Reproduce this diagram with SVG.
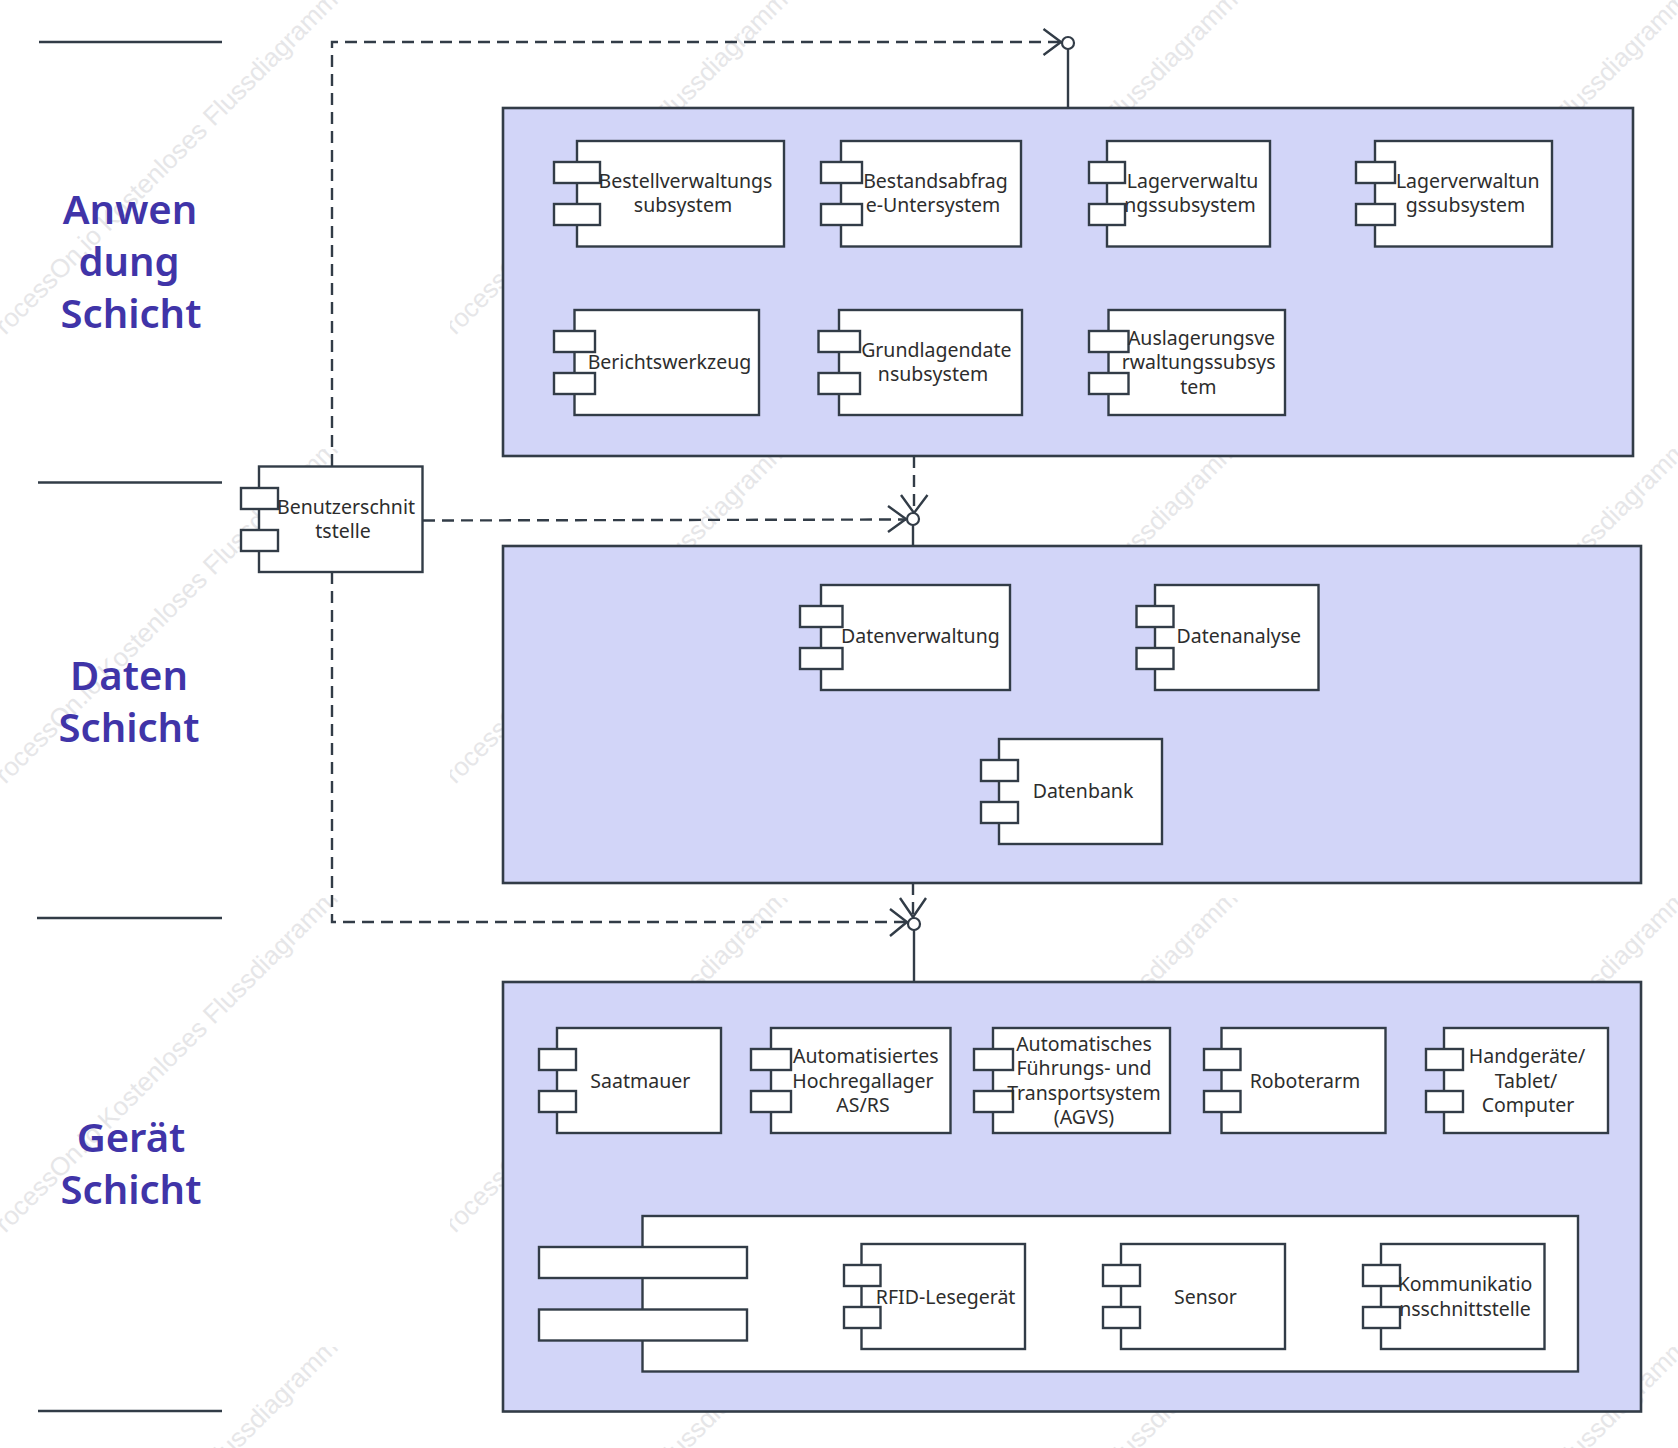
<svg xmlns="http://www.w3.org/2000/svg" xmlns:xlink="http://www.w3.org/1999/xlink" width="1678" height="1448" viewBox="0 0 1678 1448">
<style>
.s{fill:#fff;stroke:#323c47;stroke-width:2.4}
.p{fill:#d2d5f8;stroke:#323c47;stroke-width:2.6}
.l{fill:none;stroke:#323c47;stroke-width:2.4}
.d{fill:none;stroke:#323c47;stroke-width:2.4;stroke-dasharray:12 7}
.o{fill:#fff;stroke:#323c47;stroke-width:2.2}
.t{font-family:"Noto Sans","DejaVu Sans",sans-serif;font-size:19.5px;fill:#2d2d2d;text-anchor:middle}
.h{font-family:"Noto Sans","DejaVu Sans",sans-serif;font-size:40px;font-weight:600;fill:#4034a8;text-anchor:middle}
.w{font-family:"Liberation Sans",Arial,sans-serif;font-size:26px;fill:#e6e6e8}
</style>
<defs>
<clipPath id="tile"><rect x="0" y="0" width="349" height="449"/></clipPath>
<g id="wm" clip-path="url(#tile)"><text class="w" transform="translate(-7,348) rotate(-45)">ProcessOn.io Kostenloses Flussdiagramm</text></g>
</defs>
<g id="watermarks">
<use xlink:href="#wm" x="0" y="0"/><use xlink:href="#wm" x="450" y="0"/><use xlink:href="#wm" x="900" y="0"/><use xlink:href="#wm" x="1350" y="0"/>
<use xlink:href="#wm" x="0" y="449"/><use xlink:href="#wm" x="450" y="449"/><use xlink:href="#wm" x="900" y="449"/><use xlink:href="#wm" x="1350" y="449"/>
<use xlink:href="#wm" x="0" y="898"/><use xlink:href="#wm" x="450" y="898"/><use xlink:href="#wm" x="900" y="898"/><use xlink:href="#wm" x="1350" y="898"/>
<use xlink:href="#wm" x="0" y="1347"/><use xlink:href="#wm" x="450" y="1347"/><use xlink:href="#wm" x="900" y="1347"/><use xlink:href="#wm" x="1350" y="1347"/>
</g>
<g id="lane-lines">
<line class="l" x1="39" y1="42" x2="222" y2="42"/>
<line class="l" x1="38" y1="482.5" x2="222" y2="482.5"/>
<line class="l" x1="37" y1="918" x2="222" y2="918"/>
<line class="l" x1="38" y1="1411" x2="222" y2="1411"/>
</g>
<g id="lane-labels">
<text class="h" x="130" y="224">Anwen</text><text class="h" x="129" y="276">dung</text><text class="h" x="131" y="328">Schicht</text>
<text class="h" x="129" y="690">Daten</text><text class="h" x="129" y="742">Schicht</text>
<text class="h" x="131" y="1152">Gerät</text><text class="h" x="131" y="1204">Schicht</text>
</g>
<g id="panels">
<rect id="panel-app" class="p" x="503" y="108" width="1130" height="348"/>
<rect id="panel-data" class="p" x="503" y="546" width="1138" height="337"/>
<rect id="panel-device" class="p" x="503" y="982" width="1138" height="429.5"/>
</g>
<g id="connectors">
<path class="d" d="M332 466V42H1061"/>
<path class="l" d="M1043.5 29L1061 42L1043.5 55"/>
<circle class="o" cx="1068" cy="43" r="6"/>
<path class="l" d="M1068 49V108"/>
<path class="d" d="M423 520.5L906 519.5"/>
<path class="d" d="M914 456V513"/>
<path class="l" d="M888 506L906 519L888 532"/>
<path class="l" d="M901 495L914 513L927.500 495"/>
<circle class="o" cx="913" cy="519" r="6"/>
<path class="l" d="M913 525V546"/>
<path class="d" d="M332 572V922H907"/>
<path class="d" d="M913 883V917"/>
<path class="l" d="M890 909L907 922L890 936"/>
<path class="l" d="M900 898L913 917L926 898"/>
<circle class="o" cx="914" cy="924" r="6"/>
<path class="l" d="M914 930V982"/>
</g>
<g id="n-bestell"><rect class="s" x="577" y="141" width="207" height="105.500"/><rect class="s" x="554" y="162" width="46" height="21"/><rect class="s" x="554" y="204" width="46" height="21"/><text class="t"><tspan x="685.500" y="188">Bestellverwaltungs</tspan><tspan x="683" y="212">subsystem</tspan></text></g>
<g id="n-bestand"><rect class="s" x="841" y="141" width="180" height="105.500"/><rect class="s" x="821" y="162" width="41" height="21"/><rect class="s" x="821" y="204" width="41" height="21"/><text class="t"><tspan x="935.500" y="188">Bestandsabfrag</tspan><tspan x="933" y="212">e-Untersystem</tspan></text></g>
<g id="n-lager1"><rect class="s" x="1107" y="141" width="163" height="105.500"/><rect class="s" x="1089" y="162" width="36" height="21"/><rect class="s" x="1089" y="204" width="36" height="21"/><text class="t"><tspan x="1192.500" y="188">Lagerverwaltu</tspan><tspan x="1190" y="212">ngssubsystem</tspan></text></g>
<g id="n-lager2"><rect class="s" x="1375" y="141" width="177" height="105.500"/><rect class="s" x="1356" y="162" width="39" height="21"/><rect class="s" x="1356" y="204" width="39" height="21"/><text class="t"><tspan x="1467.700" y="188">Lagerverwaltun</tspan><tspan x="1465.500" y="212">gssubsystem</tspan></text></g>
<g id="n-bericht"><rect class="s" x="574.500" y="310" width="184.500" height="105"/><rect class="s" x="554" y="331" width="41" height="21"/><rect class="s" x="554" y="373" width="41" height="21"/><text class="t" x="669.400" y="369">Berichtswerkzeug</text></g>
<g id="n-grund"><rect class="s" x="839" y="310" width="183" height="105"/><rect class="s" x="818.500" y="331" width="41.500" height="21"/><rect class="s" x="818.500" y="373" width="41.500" height="21"/><text class="t"><tspan x="936.300" y="356.500">Grundlagendate</tspan><tspan x="933" y="381">nsubsystem</tspan></text></g>
<g id="n-auslager"><rect class="s" x="1108.500" y="310" width="176.500" height="105"/><rect class="s" x="1089" y="331" width="39.500" height="21"/><rect class="s" x="1089" y="373" width="39.500" height="21"/><text class="t"><tspan x="1201.500" y="344.500">Auslagerungsve</tspan><tspan x="1198.600" y="369">rwaltungssubsys</tspan><tspan x="1198.400" y="393.500">tem</tspan></text></g>
<g id="n-ui"><rect class="s" x="259" y="466.500" width="163.500" height="105.500"/><rect class="s" x="241" y="488" width="37" height="21"/><rect class="s" x="241" y="530" width="37" height="21"/><text class="t"><tspan x="346" y="513.500">Benutzerschnit</tspan><tspan x="343" y="538">tstelle</tspan></text></g>
<g id="n-datenverw"><rect class="s" x="821" y="585" width="189" height="105"/><rect class="s" x="800" y="606" width="42.500" height="21"/><rect class="s" x="800" y="648" width="42.500" height="21"/><text class="t" x="920.400" y="643">Datenverwaltung</text></g>
<g id="n-datenanalyse"><rect class="s" x="1155" y="585" width="163.500" height="105"/><rect class="s" x="1136.500" y="606" width="37" height="21"/><rect class="s" x="1136.500" y="648" width="37" height="21"/><text class="t" x="1238.800" y="643">Datenanalyse</text></g>
<g id="n-datenbank"><rect class="s" x="999" y="739" width="163" height="105"/><rect class="s" x="981" y="760" width="37" height="21"/><rect class="s" x="981" y="802" width="37" height="21"/><text class="t" x="1083" y="798">Datenbank</text></g>
<g id="n-saat"><rect class="s" x="557" y="1028" width="164" height="105"/><rect class="s" x="539" y="1049" width="37" height="21"/><rect class="s" x="539" y="1091" width="37" height="21"/><text class="t" x="640.300" y="1087.500">Saatmauer</text></g>
<g id="n-asrs"><rect class="s" x="771" y="1028" width="179.500" height="105"/><rect class="s" x="751" y="1049" width="40" height="21"/><rect class="s" x="751" y="1091" width="40" height="21"/><text class="t"><tspan x="865.800" y="1062.500">Automatisiertes</tspan><tspan x="863" y="1087.500">Hochregallager</tspan><tspan x="863" y="1111.500">AS/RS</tspan></text></g>
<g id="n-agvs"><rect class="s" x="993" y="1028" width="177" height="105"/><rect class="s" x="974" y="1049" width="39" height="21"/><rect class="s" x="974" y="1091" width="39" height="21"/><text class="t"><tspan x="1084" y="1050.500">Automatisches</tspan><tspan x="1084" y="1075">Führungs- und</tspan><tspan x="1084" y="1100">Transportsystem</tspan><tspan x="1084" y="1124">(AGVS)</tspan></text></g>
<g id="n-robot"><rect class="s" x="1221.500" y="1028" width="164" height="105"/><rect class="s" x="1204" y="1049" width="36.500" height="21"/><rect class="s" x="1204" y="1091" width="36.500" height="21"/><text class="t" x="1305" y="1087.500">Roboterarm</text></g>
<g id="n-hand"><rect class="s" x="1444" y="1028" width="164" height="105"/><rect class="s" x="1426" y="1049" width="37" height="21"/><rect class="s" x="1426" y="1091" width="37" height="21"/><text class="t"><tspan x="1527" y="1062.500">Handgeräte/</tspan><tspan x="1526" y="1087.500">Tablet/</tspan><tspan x="1528" y="1111.500">Computer</tspan></text></g>
<g id="n-group"><rect class="s" x="642.500" y="1216" width="935.500" height="155.500"/><rect class="s" x="539" y="1247" width="208" height="31"/><rect class="s" x="539" y="1309.500" width="208" height="31"/></g>
<g id="n-rfid"><rect class="s" x="861.500" y="1244" width="163.500" height="105"/><rect class="s" x="844" y="1265" width="36.500" height="21"/><rect class="s" x="844" y="1307" width="36.500" height="21"/><text class="t" x="945.600" y="1303.500">RFID-Lesegerät</text></g>
<g id="n-sensor"><rect class="s" x="1121" y="1244" width="164" height="105"/><rect class="s" x="1103" y="1265" width="37" height="21"/><rect class="s" x="1103" y="1307" width="37" height="21"/><text class="t" x="1205.400" y="1303.500">Sensor</text></g>
<g id="n-komm"><rect class="s" x="1381" y="1244" width="163.500" height="105"/><rect class="s" x="1363" y="1265" width="37" height="21"/><rect class="s" x="1363" y="1307" width="37" height="21"/><text class="t"><tspan x="1465" y="1290.500">Kommunikatio</tspan><tspan x="1465" y="1315.500">nsschnittstelle</tspan></text></g>
</svg>
